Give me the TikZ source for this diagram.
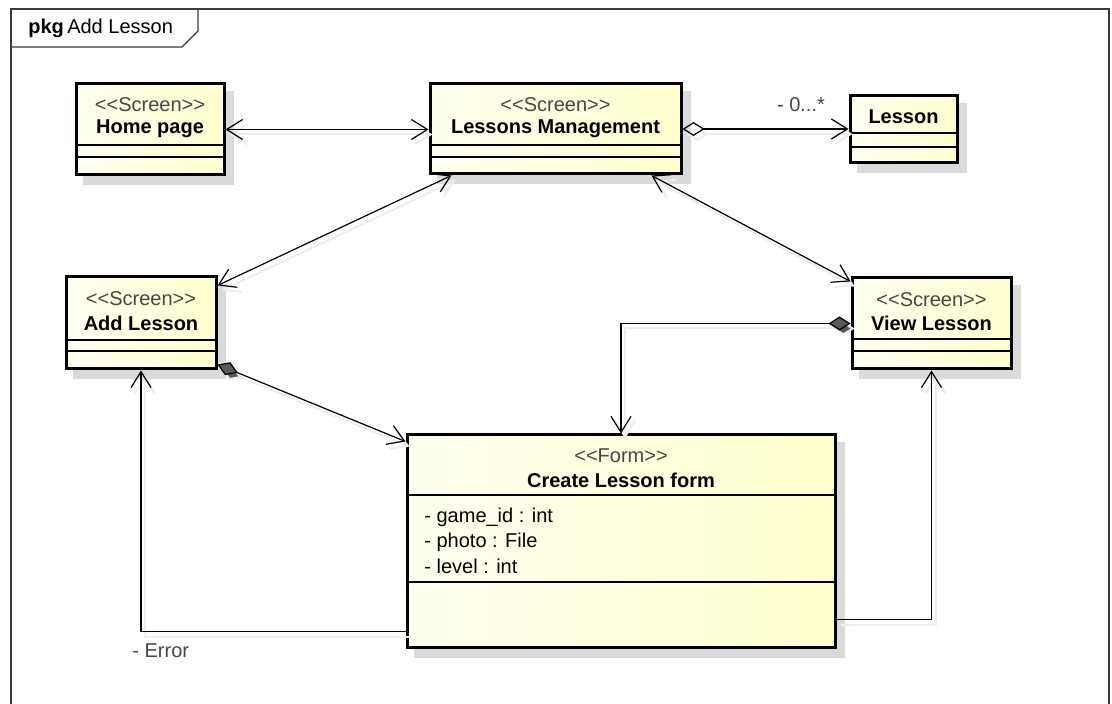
\documentclass[tikz,border=0pt]{standalone}
\usepackage{fontspec}
\setmainfont{Liberation Sans}[Ligatures=TeXOff]
\usetikzlibrary{arrows.meta,positioning,fit,calc,backgrounds}
\definecolor{umlPale}{RGB}{255,255,240}
\definecolor{umlCream}{RGB}{255,255,206}
\definecolor{umlShadow}{RGB}{218,218,218}
\definecolor{umlText}{RGB}{70,70,70}
\definecolor{umlFrame}{RGB}{60,60,60}

\begin{document}
\begin{tikzpicture}[
  x=0.5pt, y=-0.5pt,
  font=\fontsize{10}{12}\selectfont,
  classbox/.style={
    draw,
    line width=1.5pt,
    left color=umlPale,
    right color=umlCream,
    inner sep=0pt
  },
  boxshadow/.style={fill=umlShadow},
  stereo/.style={text=umlText, inner sep=0pt},
  cname/.style={font=\fontsize{10}{12}\selectfont\bfseries, inner sep=0pt},
  attr/.style={anchor=west, inner sep=0pt},
  role/.style={text=umlText, inner sep=0pt},
  divider/.style={line width=0.6pt},
  frame/.style={line width=0.7pt, umlFrame},
  link/.style={line width=0.6pt,
    preaction={draw=black!7, line width=1pt, transform canvas={shift={(2pt,-2.5pt)}}}},
  nav/.style={link, {Straight Barb[length=8pt,width=10pt]}-{Straight Barb[length=8pt,width=10pt]}},
  flow/.style={link, -{Straight Barb[length=8pt,width=10pt]}},
  aggr/.style={link, {Diamond[open,length=11pt,width=7pt]}-{Straight Barb[length=8pt,width=10pt]}},
  comp/.style={link, {Diamond[length=11pt,width=7pt,fill=black!65]}-{Straight Barb[length=8pt,width=10pt]}}
]
  \useasboundingbox (0,0) rectangle (1112,704);

  % package frame and its tab
  \draw[frame] (11,712) -- (11,9) -- (1109,9) -- (1109,712);
  \draw[frame] (11,47) -- (182,47) -- (198,31) -- (198,9);
  \node[anchor=west, inner sep=0pt] (pkg) at (28,28) {\textbf{pkg}\,Add Lesson};

  % classes
  \node[classbox, fit={(76,84) (224,175)}] (home) {};
  \node[stereo] (home-st) at (home.north |- 0,105) {<<Screen>>};
  \node[cname] (home-name) at (home.north |- 0,129) {Home page};
  \draw[divider] (home.west |- 0,145) -- (home.east |- 0,145);
  \draw[divider] (home.west |- 0,157) -- (home.east |- 0,157);

  \node[classbox, fit={(430,84) (681,174)}] (manage) {};
  \node[stereo] (manage-st) at (manage.north |- 0,105) {<<Screen>>};
  \node[cname] (manage-name) at (manage.north |- 0,129) {Lessons Management};
  \draw[divider] (manage.west |- 0,145) -- (manage.east |- 0,145);
  \draw[divider] (manage.west |- 0,157) -- (manage.east |- 0,157);

  \node[classbox, fit={(850,96) (957,163)}] (lesson) {};
  \node[cname] (lesson-name) at (lesson.north |- 0,117) {Lesson};
  \draw[divider] (lesson.west |- 0,133) -- (lesson.east |- 0,133);
  \draw[divider] (lesson.west |- 0,147) -- (lesson.east |- 0,147);

  \node[classbox, fit={(66,277) (216,369)}] (add) {};
  \node[stereo] (add-st) at (add.north |- 0,299) {<<Screen>>};
  \node[cname] (add-name) at (add.north |- 0,323) {Add Lesson};
  \draw[divider] (add.west |- 0,340) -- (add.east |- 0,340);
  \draw[divider] (add.west |- 0,351) -- (add.east |- 0,351);

  \node[classbox, fit={(852,278) (1011,369)}] (view) {};
  \node[stereo] (view-st) at (view.north |- 0,300) {<<Screen>>};
  \node[cname] (view-name) at (view.north |- 0,323) {View Lesson};
  \draw[divider] (view.west |- 0,339) -- (view.east |- 0,339);
  \draw[divider] (view.west |- 0,351) -- (view.east |- 0,351);

  \node[classbox, fit={(407,435) (835,647)}] (form) {};
  \node[stereo] (form-st) at (form.north |- 0,456) {<<Form>>};
  \node[cname] (form-name) at (form.north |- 0,480) {Create Lesson form};
  \draw[divider] (form.west |- 0,495) -- (form.east |- 0,495);
  \node[attr] (form-a1) at (424,517) {- game\_id : int};
  \node[attr] (form-a2) at (424,542) {- photo : File};
  \node[attr] (form-a3) at (424,566) {- level : int};
  \draw[divider] (form.west |- 0,582) -- (form.east |- 0,582);

  \begin{scope}[on background layer]
    \foreach \c in {home,manage,lesson,add,view,form}
      \fill[boxshadow] ($(\c.north west)+(8,9)$) rectangle ($(\c.south east)+(8,9)$);
  \end{scope}

  % associations
  \draw[nav] (home.east) -- (home.east -| manage.west);
  \draw[aggr] (manage.east) -- (manage.east -| lesson.west);
  \node[role] (many) at (801,105) {- 0...*};
  \draw[nav] ($(manage.south west)+(23,0)$) -- ($(add.north east)+(0,10)$);
  \draw[nav] ($(manage.south east)+(-31,0)$) -- ($(view.north west)+(0,5)$);
  \draw[comp] ($(add.south east)+(0,-6)$) -- ($(form.north west)+(0,8)$);
  \draw[comp] (view.west) -| (form.north);
  \draw[flow] ($(form.south west)+(0,-17)$) -| (add.south);
  \node[role, anchor=west] (error) at (132,651) {- Error};
  \draw[flow] ($(form.south east)+(0,-29)$) -| (view.south);
\end{tikzpicture}
\end{document}
